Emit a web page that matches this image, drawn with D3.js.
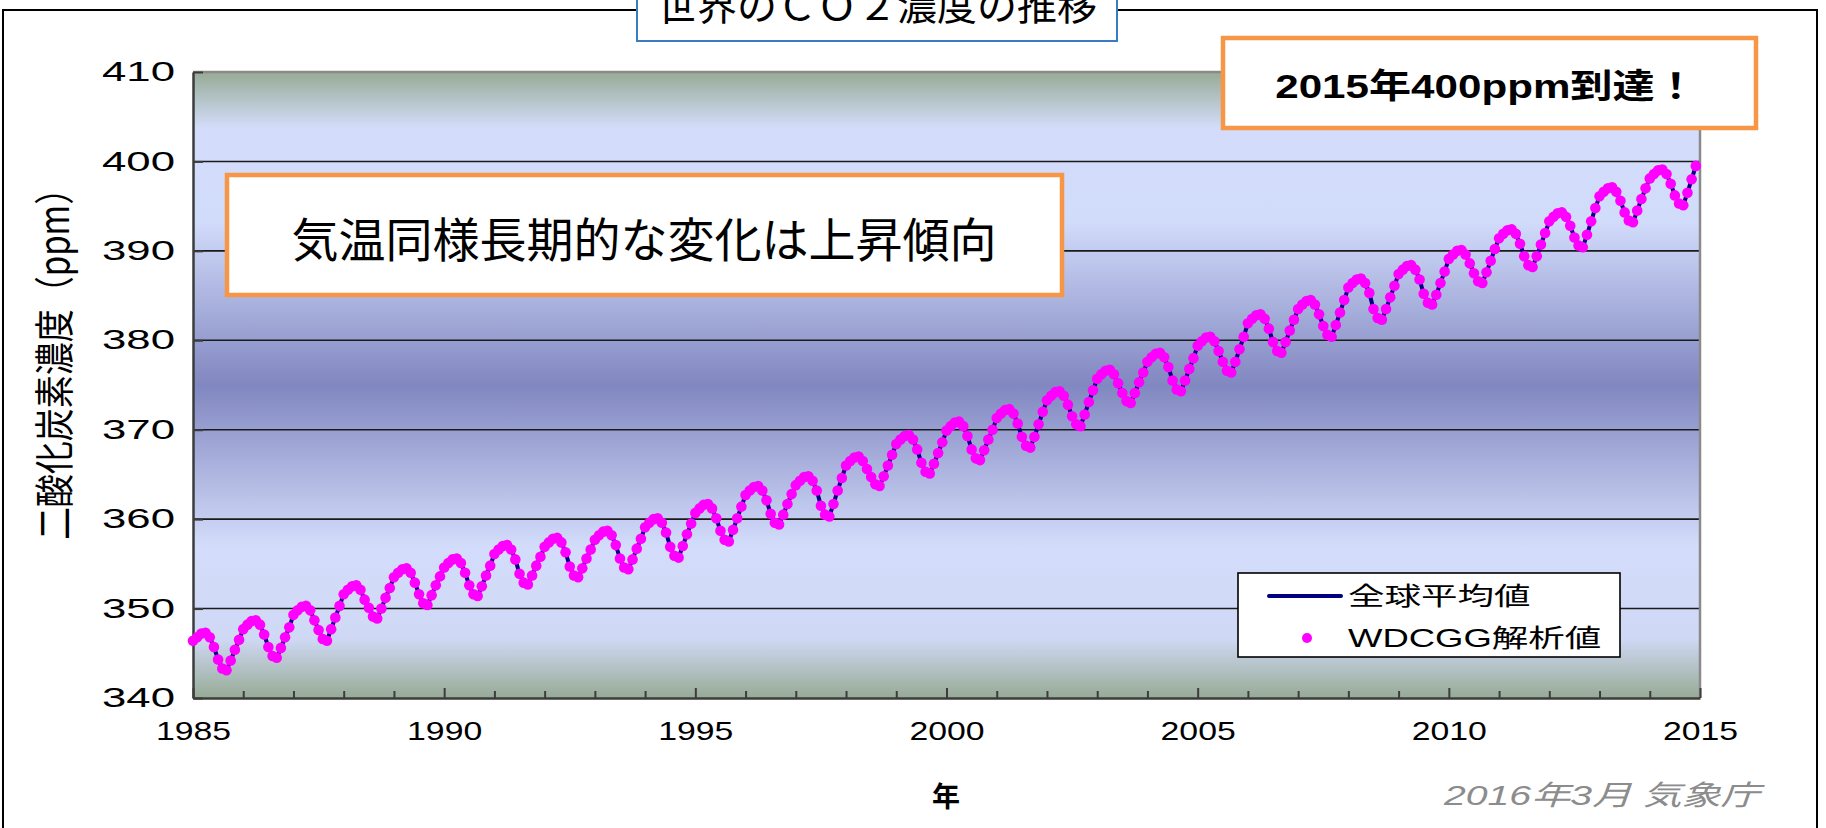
<!DOCTYPE html>
<html>
<head>
<meta charset="utf-8">
<script src="https://cdn.jsdelivr.net/npm/d3@7"></script>
<style>
  html, body { margin: 0; padding: 0; background: #fff; }
  svg { display: block; }
</style>
</head>
<body>
<svg id="chart" width="1826" height="828"></svg>
<script>
// Monthly global mean CO2 (ppm), one row per year, Jan..Dec
const startYear = 1985;
const co2Monthly = [
  [346.4,346.8,347.2,347.3,346.8,345.7,344.3,343.3,343.1,344.2,345.4,346.5], // 1985
  [347.7,348.2,348.6,348.7,348.2,347.1,345.7,344.7,344.5,345.6,346.8,347.9], // 1986
  [349.3,349.8,350.2,350.3,349.8,348.7,347.6,346.6,346.4,347.7,349.0,350.3], // 1987
  [351.6,352.1,352.5,352.6,352.1,351.0,350.1,349.1,348.9,350.0,351.2,352.3], // 1988
  [353.5,354.0,354.4,354.5,354.0,352.9,351.6,350.6,350.4,351.5,352.6,353.6], // 1989
  [354.6,355.1,355.5,355.6,355.1,354.0,352.6,351.6,351.4,352.5,353.7,354.8], // 1990
  [356.1,356.6,357.0,357.1,356.6,355.5,353.9,352.9,352.7,353.7,354.8,355.8], // 1991
  [356.9,357.4,357.8,357.9,357.4,356.3,354.7,353.7,353.5,354.5,355.6,356.6], // 1992
  [357.7,358.2,358.6,358.7,358.2,357.1,355.6,354.6,354.4,355.5,356.7,357.8], // 1993
  [359.1,359.6,360.0,360.1,359.6,358.5,356.9,355.9,355.7,357.0,358.3,359.5], // 1994
  [360.7,361.2,361.6,361.7,361.2,360.1,358.7,357.7,357.5,358.8,360.1,361.4], // 1995
  [362.7,363.2,363.6,363.7,363.2,362.1,360.6,359.6,359.4,360.5,361.7,362.8], // 1996
  [363.8,364.3,364.7,364.8,364.3,363.2,361.5,360.5,360.3,361.7,363.2,364.6], // 1997
  [366.0,366.5,366.9,367.0,366.5,365.6,364.7,363.9,363.7,364.8,366.0,367.2], // 1998
  [368.4,368.9,369.3,369.4,368.9,367.8,366.3,365.3,365.1,366.2,367.4,368.6], // 1999
  [369.9,370.4,370.8,370.9,370.4,369.3,367.8,366.8,366.6,367.7,368.9,370.0], // 2000
  [371.3,371.8,372.2,372.3,371.8,370.7,369.2,368.2,368.0,369.2,370.6,372.0], // 2001
  [373.3,373.8,374.2,374.3,373.8,372.8,371.5,370.6,370.4,371.7,373.1,374.4], // 2002
  [375.7,376.2,376.6,376.7,376.2,375.2,374.1,373.2,373.0,374.1,375.3,376.4], // 2003
  [377.6,378.1,378.5,378.6,378.1,377.0,375.5,374.5,374.3,375.5,376.8,378.0], // 2004
  [379.4,379.9,380.3,380.4,379.9,378.8,377.6,376.6,376.4,377.6,379.0,380.4], // 2005
  [381.9,382.4,382.8,382.9,382.4,381.3,379.8,378.8,378.6,379.8,381.1,382.3], // 2006
  [383.5,384.0,384.4,384.5,384.0,382.9,381.6,380.6,380.4,381.7,383.1,384.5], // 2007
  [385.9,386.4,386.8,386.9,386.4,385.3,383.5,382.5,382.3,383.5,384.8,386.1], // 2008
  [387.4,387.9,388.3,388.4,387.9,386.8,385.2,384.2,384.0,385.1,386.4,387.7], // 2009
  [389.1,389.6,390.0,390.1,389.6,388.6,387.5,386.6,386.4,387.6,388.9,390.2], // 2010
  [391.4,391.9,392.3,392.4,391.9,390.8,389.4,388.4,388.2,389.4,390.7,392.0], // 2011
  [393.3,393.8,394.2,394.3,393.8,392.8,391.5,390.6,390.4,391.8,393.3,394.8], // 2012
  [396.1,396.6,397.0,397.1,396.6,395.6,394.3,393.4,393.2,394.5,395.8,397.0], // 2013
  [398.1,398.6,399.0,399.1,398.6,397.5,396.2,395.3,395.1,396.5,398.0,399.5]  // 2014
];

const yTicks = [340, 350, 360, 370, 380, 390, 400, 410];
const gridValues = [350, 360, 370, 380, 390, 400];
const xYearTicks = d3.range(1985, 2016);
const xLabelYears = [1985, 1990, 1995, 2000, 2005, 2010, 2015];
const xDomain = [1985, 2015];
const yDomain = [340, 410];

const titleText = "世界のＣＯ２濃度の推移";
const yAxisTitle = "二酸化炭素濃度（ppm）";
const xAxisTitle = "年";
const seriesNames = ["全球平均値", "WDCGG解析値"];
const noteTrend = "気温同様長期的な変化は上昇傾向";
const note400 = "2015年400ppm到達！";
const sourceText = "2016年3月 気象庁";

const LATIN = "'Liberation Sans', Arial, 'Noto Sans CJK JP', sans-serif";
const CJK = "'Noto Sans CJK JP', 'Liberation Sans', sans-serif";

const svg = d3.select("#chart");

// plot area
const P = { left: 193, right: 1700, top: 72, bottom: 698 };
const x = d3.scaleLinear().domain(xDomain).range([P.left, P.right]);
const y = d3.scaleLinear().domain(yDomain).range([P.bottom, P.top]);

// horizontally stretched text helper (anchor point stays fixed)
function stretchText(sel, k) {
  sel.each(function () {
    const t = d3.select(this);
    const tx = +t.attr("x") || 0, ty = +t.attr("y") || 0;
    t.attr("x", 0).attr("y", 0).attr("transform", `translate(${tx},${ty}) scale(${k},1)`);
  });
}

// outer frame
svg.append("path")
  .attr("d", "M3,830 V10 H1817 V830")
  .attr("fill", "none").attr("stroke", "#000").attr("stroke-width", 2);

// background gradient of plot area
const defs = svg.append("defs");
const grad = defs.append("linearGradient").attr("id", "plotBg")
  .attr("x1", 0).attr("y1", 0).attr("x2", 0).attr("y2", 1);
[
  [0.00, "#97ab96"], [0.09, "#d3ddfb"], [0.24, "#d1dbfa"],
  [0.50, "#8187c0"], [0.76, "#d3ddfb"], [0.905, "#cfd9f5"], [1.00, "#97aa95"]
].forEach(([o, c]) => grad.append("stop").attr("offset", o).attr("stop-color", c));

svg.append("rect")
  .attr("x", P.left).attr("y", P.top)
  .attr("width", P.right - P.left).attr("height", P.bottom - P.top)
  .attr("fill", "url(#plotBg)");

// gridlines
svg.append("g").selectAll("line").data(gridValues).join("line")
  .attr("x1", P.left).attr("x2", P.right)
  .attr("y1", d => y(d)).attr("y2", d => y(d))
  .attr("stroke", "#1a1a1a").attr("stroke-width", 1.6);

// plot border (top / right)
svg.append("path")
  .attr("d", `M${P.left},${P.top} H${P.right} V${P.bottom}`)
  .attr("fill", "none").attr("stroke", "#8a8a8a").attr("stroke-width", 2.5);

// y axis
const yAxis = svg.append("g")
  .attr("transform", `translate(${P.left},0)`)
  .call(d3.axisLeft(y).tickValues(yTicks).tickSizeInner(-10).tickSizeOuter(0).tickPadding(18));
yAxis.select(".domain").attr("stroke", "#3c3c3c").attr("stroke-width", 2.5);
yAxis.selectAll(".tick line").attr("stroke", "#3c3c3c").attr("stroke-width", 2);
yAxis.selectAll("text")
  .attr("font-family", LATIN).attr("font-size", 27).attr("fill", "#000");
stretchText(yAxis.selectAll("text"), 1.62);

// x axis
const xAxis = svg.append("g")
  .attr("transform", `translate(0,${P.bottom})`)
  .call(d3.axisBottom(x).tickValues(xYearTicks).tickSizeInner(-7).tickSizeOuter(0).tickPadding(24)
    .tickFormat(d => xLabelYears.includes(d) ? String(d) : ""));
xAxis.select(".domain").attr("stroke", "#3c3c3c").attr("stroke-width", 2.5);
xAxis.selectAll(".tick line").attr("stroke", "#3c3c3c").attr("stroke-width", 2)
  .attr("y2", d => d % 5 === 0 ? -10 : -7);
xAxis.selectAll("text")
  .attr("font-family", LATIN).attr("font-size", 26).attr("fill", "#000");
stretchText(xAxis.selectAll("text"), 1.3);

// series
const points = co2Monthly.flatMap((row, yi) =>
  row.map((v, m) => ({ t: startYear + yi + m / 12, v })));

svg.append("path")
  .datum(points)
  .attr("d", d3.line().x(d => x(d.t)).y(d => y(d.v)))
  .attr("fill", "none").attr("stroke", "#000080").attr("stroke-width", 4)
  .attr("stroke-linejoin", "round");

svg.append("g").selectAll("circle").data(points).join("circle")
  .attr("cx", d => x(d.t)).attr("cy", d => y(d.v)).attr("r", 5.3)
  .attr("fill", "#ff00ff");

// axis titles
svg.append("text")
  .attr("transform", "translate(52,356) rotate(-90) scale(0.97,1.18)")
  .attr("text-anchor", "middle").attr("dominant-baseline", "central")
  .attr("font-family", CJK).attr("font-size", 34).attr("fill", "#000")
  .text(yAxisTitle);

svg.append("text")
  .attr("x", 946).attr("y", 795)
  .attr("text-anchor", "middle").attr("dominant-baseline", "central")
  .attr("font-family", CJK).attr("font-size", 28).attr("font-weight", 700).attr("fill", "#000")
  .text(xAxisTitle);

// legend
const lg = svg.append("g");
lg.append("rect").attr("x", 1238).attr("y", 573).attr("width", 382).attr("height", 84)
  .attr("fill", "#fff").attr("stroke", "#000").attr("stroke-width", 1.6);
lg.append("line").attr("x1", 1269).attr("x2", 1341).attr("y1", 596).attr("y2", 596)
  .attr("stroke", "#000080").attr("stroke-width", 4).attr("stroke-linecap", "round");
lg.append("circle").attr("cx", 1307).attr("cy", 638).attr("r", 5).attr("fill", "#ff00ff");
const lgText = lg.selectAll("text.lab").data(seriesNames).join("text")
  .attr("class", "lab")
  .attr("x", 1348).attr("y", (d, i) => 597 + i * 42)
  .attr("dominant-baseline", "central")
  .attr("font-family", LATIN).attr("font-size", 25).attr("fill", "#000")
  .text(d => d);
stretchText(lgText, 1.46);

// source note
const src = svg.append("text")
  .attr("x", 1444).attr("y", 805)
  .attr("font-family", LATIN).attr("font-size", 28).attr("font-style", "italic")
  .attr("fill", "#8c8c8c").text(sourceText);
stretchText(src, 1.4);

// title box
svg.append("rect").attr("x", 637).attr("y", -10).attr("width", 480).attr("height", 51)
  .attr("fill", "#fff").attr("stroke", "#3a7cc4").attr("stroke-width", 2);
svg.append("text").attr("x", 877).attr("y", 20)
  .attr("text-anchor", "middle")
  .attr("font-family", CJK).attr("font-size", 40).attr("fill", "#000")
  .text(titleText);

// callout boxes
svg.append("rect").attr("x", 1223).attr("y", 38).attr("width", 533).attr("height", 90)
  .attr("fill", "#fff").attr("stroke", "#f79646").attr("stroke-width", 4.5);
const t400 = svg.append("text").attr("x", 1486).attr("y", 86)
  .attr("text-anchor", "middle").attr("dominant-baseline", "central")
  .attr("font-family", LATIN).attr("font-size", 34).attr("font-weight", 700).attr("fill", "#000")
  .text(note400);
stretchText(t400, 1.24);

svg.append("rect").attr("x", 227).attr("y", 175).attr("width", 835).attr("height", 120)
  .attr("fill", "#fff").attr("stroke", "#f79646").attr("stroke-width", 4.5);
svg.append("text").attr("x", 644).attr("y", 236)
  .attr("text-anchor", "middle").attr("dominant-baseline", "central")
  .attr("font-family", CJK).attr("font-size", 47).attr("fill", "#000")
  .text(noteTrend);
</script>
</body>
</html>
